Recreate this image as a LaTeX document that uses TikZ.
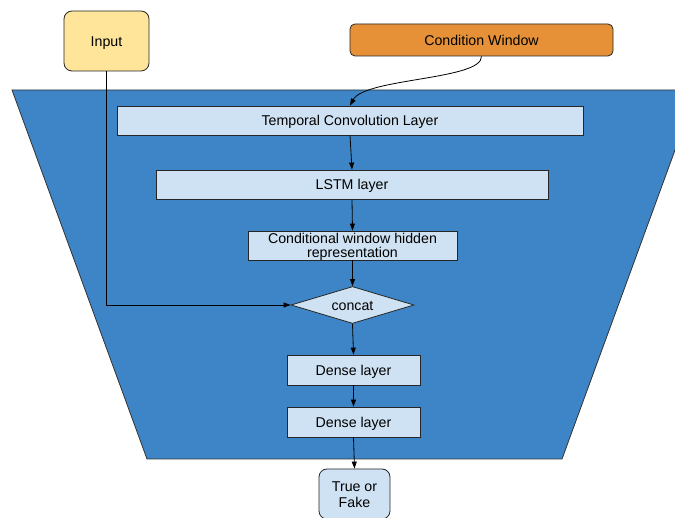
\documentclass[tikz,border=0pt]{standalone}
\usepackage{fontspec}
\setmainfont{Liberation Sans}
\usetikzlibrary{arrows.meta,shapes.geometric}
\definecolor{trapblue}{HTML}{3D85C6}
\definecolor{lightbox}{HTML}{CFE2F3}
\definecolor{inyellow}{HTML}{FFE599}
\definecolor{condorange}{HTML}{E69138}
\tikzset{
  txt/.style={font=\fontsize{14.2}{16}\selectfont, text height=10.2pt, text depth=0pt},
  layerbox/.style={txt, draw=black!85, line width=0.8pt, fill=lightbox, inner sep=0pt, align=center},
  roundbox/.style={txt, draw=black!85, line width=0.8pt, rounded corners=8pt, inner sep=0pt, align=center},
  conn/.style={draw=black, line width=0.8pt, -{Triangle[length=7pt,width=5pt]}},
}
\begin{document}
\begin{tikzpicture}[x=1pt,y=-1pt]
\useasboundingbox (0,0) rectangle (675,518);
\clip (0,0) rectangle (675,518);
% trapezoid
\draw[fill=trapblue, draw=black!80, line width=0.8pt] (12,90) -- (697,90) -- (562,459) -- (147,459) -- cycle;
% nodes
\node[roundbox, fill=inyellow, minimum width=85pt, minimum height=60pt] (input) at (106.5,41) {Input};
\node[roundbox, fill=condorange, rounded corners=5pt, minimum width=263pt, minimum height=32pt] (cond) at (481.5,40) {Condition Window};
\node[layerbox, minimum width=466pt, minimum height=29pt] (tcl) at (350,120.5) {Temporal Convolution Layer};
\node[layerbox, minimum width=392pt, minimum height=29pt] (lstm) at (352,184.5) {LSTM layer};
\node[layerbox, minimum width=209pt, minimum height=29pt, text height=24pt] (cwhr) at (352.5,245.5) {Conditional window hidden\\[-2.5pt]representation};
\node[diamond, txt, draw=black!85, line width=0.8pt, fill=lightbox, aspect=3.3, minimum width=123pt, minimum height=37pt, inner sep=0pt] (concat) at (352.5,305) {concat};
\node[layerbox, minimum width=133pt, minimum height=30pt] (d1) at (353.5,370) {Dense layer};
\node[layerbox, minimum width=133pt, minimum height=30pt] (d2) at (353.5,422) {Dense layer};
\node[roundbox, fill=lightbox, minimum width=71pt, minimum height=50pt, text height=26.2pt] (tf) at (354.5,494) {True or\\Fake};
% connectors
\draw[conn] (cond.south) .. controls (482,80) and (365,78) .. (tcl.north);
\draw[conn] (tcl.south) -- (lstm.north);
\draw[conn] (lstm.south) -- (cwhr.north);
\draw[conn] (cwhr.south) -- (concat.north);
\draw[conn] (input.south) |- (concat.west);
\draw[conn] (concat.south) -- (d1.north);
\draw[conn] (d1.south) -- (d2.north);
\draw[conn] (d2.south) -- (tf.north);
\end{tikzpicture}
\end{document}
